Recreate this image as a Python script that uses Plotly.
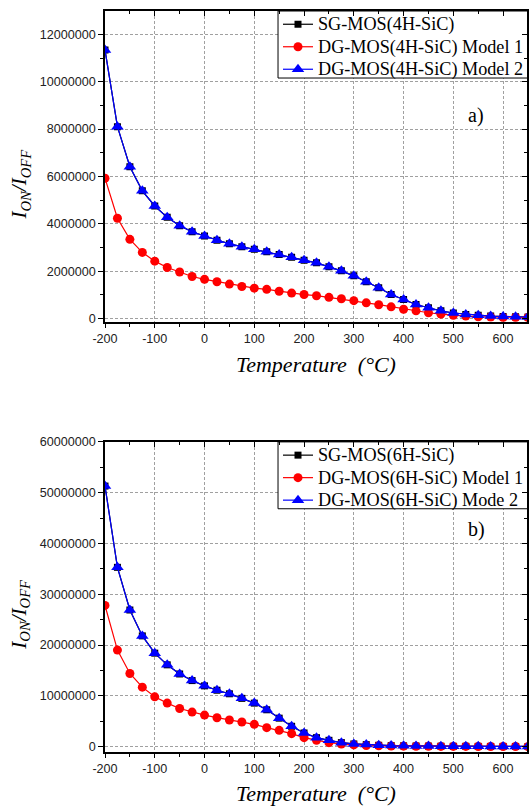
import plotly.graph_objects as go

temps = [-200, -175, -150, -125, -100, -75, -50, -25, 0, 25, 50, 75, 100, 125, 150, 175, 200,
         225, 250, 275, 300, 325, 350, 375, 400, 425, 450, 475, 500, 525, 550, 575, 600, 625, 650]

# (a) 4H-SiC
a_model2 = [11340000, 8100000, 6410000, 5390000, 4750000, 4270000, 3920000, 3660000, 3480000,
            3300000, 3150000, 3030000, 2920000, 2820000, 2700000, 2580000, 2460000, 2350000,
            2180000, 2010000, 1800000, 1550000, 1300000, 1010000, 800000, 590000, 450000,
            320000, 230000, 170000, 140000, 100000, 80000, 70000, 60000]
a_model1 = [5920000, 4230000, 3340000, 2790000, 2420000, 2150000, 1960000, 1770000, 1650000,
            1550000, 1450000, 1350000, 1280000, 1230000, 1150000, 1070000, 1010000, 960000,
            890000, 830000, 750000, 660000, 580000, 490000, 390000, 320000, 240000, 180000,
            130000, 100000, 70000, 60000, 40000, 40000, 40000]
a_sg = list(a_model2)

# (b) 6H-SiC
b_model2 = [51300000, 35300000, 26900000, 21800000, 18400000, 16100000, 14300000, 13000000,
            11960000, 11100000, 10400000, 9500000, 8560000, 7250000, 5600000, 4000000, 2680000,
            1760000, 1240000, 780000, 520000, 390000, 260000, 200000, 150000, 120000, 100000,
            80000, 70000, 60000, 50000, 40000, 40000, 30000, 30000]
b_model1 = [27800000, 19000000, 14400000, 11700000, 9800000, 8560000, 7500000, 6800000,
            6200000, 5690000, 5230000, 4840000, 4380000, 3730000, 3200000, 2550000, 1760000,
            1240000, 780000, 520000, 330000, 200000, 150000, 100000, 80000, 60000, 50000,
            40000, 30000, 30000, 20000, 20000, 20000, 10000, 10000]
b_sg = list(b_model2)

legend_a = ["SG-MOS(4H-SiC)", "DG-MOS(4H-SiC) Model 1", "DG-MOS(4H-SiC) Model 2"]
legend_b = ["SG-MOS(6H-SiC)", "DG-MOS(6H-SiC) Model 1", "DG-MOS(6H-SiC) Mode 2"]

x_ticks = [-200, -100, 0, 100, 200, 300, 400, 500, 600]
x_ticktext = ["-200", "-100", "0", "100", "200", "300", "400", "500", "600"]
ya_ticks = [0, 2000000, 4000000, 6000000, 8000000, 10000000, 12000000]
yb_ticks = [0, 10000000, 20000000, 30000000, 40000000, 50000000, 60000000]

X_RANGE = [-200, 648]
YA_RANGE = [-144000, 12985000]
YB_RANGE = [-1064000, 60000000]

SERIF = "Liberation Serif, Times New Roman, serif"
SANS = "Liberation Sans, Arial, sans-serif"

fig = go.Figure()

def leg_label(s):
    return '<span style="font-size:18.2px">' + s + '</span>'

def add_series(xa, ya, vals, name, color, symbol, size, legend):
    fig.add_trace(go.Scatter(
        x=temps, y=vals, name=leg_label(name), mode="lines+markers",
        line=dict(color=color, width=1.2),
        marker=dict(symbol=symbol, size=size, color=color, line=dict(width=0)),
        xaxis=xa, yaxis=ya, legend=legend, cliponaxis=True))

add_series("x", "y", a_sg, legend_a[0], "black", "square", 7, "legend")
add_series("x", "y", a_model1, legend_a[1], "#ff0000", "circle", 9, "legend")
add_series("x", "y", a_model2, legend_a[2], "#0000ff", "triangle-up", 11, "legend")
add_series("x2", "y2", b_sg, legend_b[0], "black", "square", 7, "legend2")
add_series("x2", "y2", b_model1, legend_b[1], "#ff0000", "circle", 9, "legend2")
add_series("x2", "y2", b_model2, legend_b[2], "#0000ff", "triangle-up", 11, "legend2")

# dummy traces for mirrored inside ticks
fig.add_trace(go.Scatter(x=[None], y=[None], xaxis="x3", yaxis="y3", showlegend=False, hoverinfo="skip"))
fig.add_trace(go.Scatter(x=[None], y=[None], xaxis="x4", yaxis="y4", showlegend=False, hoverinfo="skip"))

grid = dict(showgrid=True, gridcolor="#a0a0a0", gridwidth=1, griddash="3px,2px")
axline = dict(showline=True, linecolor="black", linewidth=1.6, zeroline=False)
tickfont = dict(family=SANS, size=12.6, color="#222")

xbase = dict(range=X_RANGE, tickvals=x_ticks, ticktext=x_ticktext, ticks="outside", ticklen=4, tickwidth=1.3,
             tickcolor="black", tickfont=tickfont, minor=dict(dtick=50, tick0=0, ticks="outside", ticklen=3, tickcolor="black", showgrid=False),
             **grid, **axline)

ya_base = dict(range=YA_RANGE, tickvals=ya_ticks, tickformat="d", ticks="outside", ticklen=5,
               tickwidth=1.3, tickcolor="black", tickfont=tickfont,
               minor=dict(dtick=1000000, tick0=0, ticks="outside", ticklen=3, tickcolor="black", showgrid=False),
               **grid, **axline)
yb_base = dict(range=YB_RANGE, tickvals=yb_ticks, tickformat="d", ticks="outside", ticklen=5,
               tickwidth=1.3, tickcolor="black", tickfont=tickfont,
               minor=dict(dtick=5000000, tick0=0, ticks="outside", ticklen=3, tickcolor="black", showgrid=False),
               **grid, **axline)

DOM_A = [0.5805, 1.0]
DOM_B = [0.0, 0.4185]
PLOT_H = 806 - 11 - 54
SUB_H = 310.7

def mirror_x(over, anchor, rng, minor_dtick):
    return dict(overlaying=over, anchor=anchor, side="top", range=rng, tickvals=x_ticks,
                ticks="inside", ticklen=5, tickwidth=1.3, tickcolor="black", showticklabels=False,
                showgrid=False, minor=dict(dtick=minor_dtick, tick0=0, ticks="inside", ticklen=3, tickcolor="black"),
                **axline)

def mirror_y(over, anchor, rng, tv, minor_dtick):
    return dict(overlaying=over, anchor=anchor, side="right", range=rng, tickvals=tv,
                ticks="inside", ticklen=5, tickwidth=1.3, tickcolor="black", showticklabels=False,
                showgrid=False, minor=dict(dtick=minor_dtick, tick0=0, ticks="inside", ticklen=3, tickcolor="black"),
                **axline)

LEG_SHIFT = 3.0 / PLOT_H
legfont = dict(family=SERIF, size=15, color="black")

fig.update_layout(
    width=529, height=806,
    margin=dict(l=105, r=0, t=11, b=54),
    paper_bgcolor="white", plot_bgcolor="white",
    xaxis=dict(domain=[0, 1], anchor="y", **xbase),
    yaxis=dict(domain=DOM_A, anchor="x", **ya_base),
    xaxis2=dict(domain=[0, 1], anchor="y2", **xbase),
    yaxis2=dict(domain=DOM_B, anchor="x2", **yb_base),
    xaxis3=mirror_x("x", "y3", X_RANGE, 50),
    yaxis3=mirror_y("y", "x3", YA_RANGE, ya_ticks, 1000000),
    xaxis4=mirror_x("x2", "y4", X_RANGE, 50),
    yaxis4=mirror_y("y2", "x4", YB_RANGE, yb_ticks, 5000000),
    legend=dict(x=0.41, y=DOM_A[1] + LEG_SHIFT, xref="paper", yref="paper", xanchor="left", yanchor="top",
                bgcolor="rgba(0,0,0,0)", borderwidth=0,
                font=legfont, tracegroupgap=0, itemwidth=30),
    legend2=dict(x=0.41, y=DOM_B[1] + LEG_SHIFT, xref="paper", yref="paper", xanchor="left", yanchor="top",
                 bgcolor="rgba(0,0,0,0)", borderwidth=0,
                 font=legfont, tracegroupgap=0, itemwidth=30),
    showlegend=True,
)

# legend boxes (white, black border) drawn between grid and traces
def frac(rng, f):
    return rng[0] + f * (rng[1] - rng[0])

for xr, yr, yrng in (("x", "y", YA_RANGE), ("x2", "y2", YB_RANGE)):
    fig.add_shape(type="rect", xref=xr, yref=yr,
                  x0=frac(X_RANGE, 0.41), x1=frac(X_RANGE, 1.02),
                  y0=frac(yrng, 1 - 67.0 / SUB_H), y1=frac(yrng, 1.0),
                  fillcolor="white", line=dict(color="black", width=1), layer="between")

ytitle = "<i>I</i><sub><i>ON</i></sub><i>/I</i><sub><i>OFF</i></sub>"
xtitle = "<i>Temperature  (°C)</i>"

annos = [
    dict(text="a)", xref="x domain", yref="y domain", x=0.880, y=0.665),
    dict(text="b)", xref="x2 domain", yref="y2 domain", x=0.880, y=0.718),
]
for a in annos:
    fig.add_annotation(**a, showarrow=False, xanchor="center", yanchor="middle",
                       font=dict(family=SERIF, size=20, color="black"))

for xr, yr, ty in [("x domain", "y domain", 0.443), ("x2 domain", "y2 domain", 0.444)]:
    fig.add_annotation(text=ytitle, xref=xr, yref=yr, x=-0.2005, y=ty, textangle=-90,
                       showarrow=False, xanchor="center", yanchor="middle",
                       font=dict(family=SERIF, size=21, color="black"))
for xr, yr, ty in [("x domain", "y domain", -0.136), ("x2 domain", "y2 domain", -0.133)]:
    fig.add_annotation(text=xtitle, xref=xr, yref=yr, x=0.5, y=ty,
                       showarrow=False, xanchor="center", yanchor="middle",
                       font=dict(family=SERIF, size=22, color="black"))

fig.write_html("out.html")
